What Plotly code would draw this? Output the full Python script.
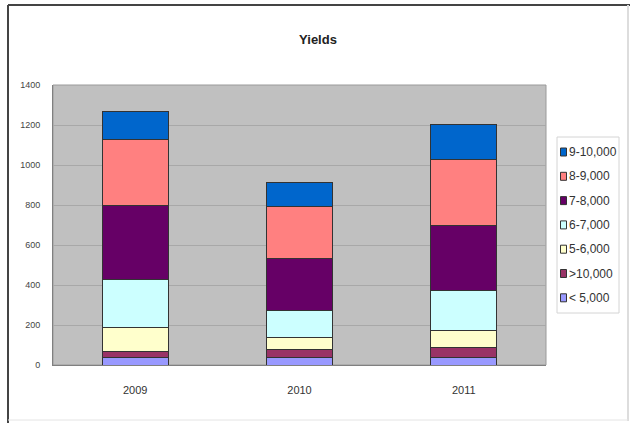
import plotly.graph_objects as go

# Yield distribution per year (stacked, bottom to top)
years = ["2009", "2010", "2011"]
series_names = ["< 5,000", ">10,000", "5-6,000", "6-7,000", "7-8,000", "8-9,000", "9-10,000"]
lt_5000 = [40, 37, 38]
gt_10000 = [30, 40, 49]
r5_6000 = [120, 60, 88]
r6_7000 = [240, 137, 200]
r7_8000 = [370, 257, 325]
r8_9000 = [330, 260, 328]
r9_10000 = [140, 120, 175]
series_values = [lt_5000, gt_10000, r5_6000, r6_7000, r7_8000, r8_9000, r9_10000]
colors = ["#9999FF", "#993366", "#FFFFCC", "#CCFFFF", "#660066", "#FF8080", "#0066CC"]

W, H = 635, 423
# plot area in pixels
PL, PR, PT, PB = 53, 546, 85, 365

fig = go.Figure()
for name, vals, col in zip(series_names, series_values, colors):
    fig.add_trace(go.Bar(
        x=years, y=vals, name=name,
        marker=dict(color=col, line=dict(color="#333333", width=1)),
    ))


def px_x(p):
    return (p - PL) / (PR - PL)


def px_y(p):
    return (PB - p) / (PB - PT)


shapes = [
    # outer chart frame
    dict(type="line", xref="paper", yref="paper", x0=px_x(8), x1=px_x(8), y0=px_y(5), y1=px_y(425),
         line=dict(color="#444444", width=2)),
    dict(type="line", xref="paper", yref="paper", x0=px_x(8), x1=px_x(630), y0=px_y(5), y1=px_y(5),
         line=dict(color="#444444", width=2)),
    dict(type="line", xref="paper", yref="paper", x0=px_x(628), x1=px_x(628), y0=px_y(5), y1=px_y(421),
         line=dict(color="#dddddd", width=2)),
    dict(type="line", xref="paper", yref="paper", x0=px_x(8), x1=px_x(628), y0=px_y(420), y1=px_y(420),
         line=dict(color="#e4e4e4", width=1)),
    # plot area border
    dict(type="rect", xref="paper", yref="paper", x0=0, x1=1, y0=0, y1=1,
         line=dict(color="#9a9a9a", width=1), layer="below"),
    # legend box
    dict(type="rect", xref="paper", yref="paper", x0=px_x(557), x1=px_x(619), y0=px_y(137), y1=px_y(313),
         line=dict(color="#d4d4d4", width=1), fillcolor="white"),
]
annotations = []

# legend entries, top entry is the last stacked series
LEG_TOP, LEG_STEP = 152, 24.3
for i, (name, col) in enumerate(zip(reversed(series_names), reversed(colors))):
    cy = LEG_TOP + i * LEG_STEP
    shapes.append(dict(type="rect", xref="paper", yref="paper",
                       x0=px_x(560.5), x1=px_x(566.5), y0=px_y(cy + 4), y1=px_y(cy - 4),
                       fillcolor=col, line=dict(color="#333333", width=1)))
    annotations.append(dict(text=name, xref="paper", yref="paper", x=px_x(567), y=px_y(cy),
                            xanchor="left", yanchor="middle", showarrow=False,
                            font=dict(size=12, color="#333333")))

fig.update_layout(
    width=W, height=H,
    margin=dict(l=PL, r=W - PR, t=PT, b=H - PB, pad=0),
    paper_bgcolor="white",
    plot_bgcolor="#C0C0C0",
    barmode="stack",
    bargap=0.6,
    showlegend=False,
    font=dict(family="Liberation Sans, Arial, sans-serif", color="#333333"),
    title=dict(text="<b>Yields</b>", x=px_x(318), xref="paper", xanchor="center",
               y=1 - 39 / H, yanchor="middle", font=dict(size=13, color="#222222")),
    xaxis=dict(
        type="category", showgrid=False, showline=True, linecolor="#808080", linewidth=1,
        ticks="", tickfont=dict(size=11, color="#333333"), ticklabelstandoff=15,
    ),
    yaxis=dict(
        range=[0, 1400], dtick=200, showgrid=True, gridcolor="#a8a8a8", gridwidth=1,
        showline=True, linecolor="#808080", linewidth=1, zeroline=False,
        ticks="", tickfont=dict(size=9, color="#444444"), ticklabelstandoff=10,
    ),
    shapes=shapes,
    annotations=annotations,
)

fig.write_html("out.html")
